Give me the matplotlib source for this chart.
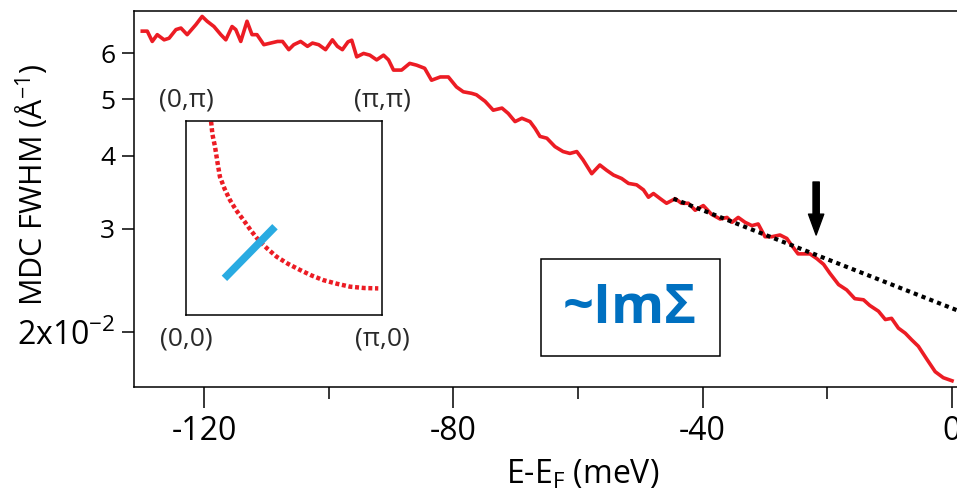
import matplotlib.pyplot as plt
from matplotlib.patches import Rectangle
from matplotlib.ticker import FixedLocator, FixedFormatter
import numpy as np

plt.rcParams['font.family'] = ['Open Sans', 'DejaVu Sans']
plt.rcParams['mathtext.fontset'] = 'custom'
plt.rcParams['mathtext.rm'] = 'Open Sans'
plt.rcParams['mathtext.default'] = 'rm'
plt.rcParams['axes.unicode_minus'] = False

# E-E_F (meV) и MDC FWHM (в единицах 1e-2 1/Å)
energy = [-129.9, -129.1, -128.3, -127.5, -126.4, -125.6, -124.5, -123.7, -122.7, -121.3,
          -120.3, -119.5, -118.4, -117.3, -116.5, -115.5, -114.9, -114.1, -113.1, -112.3,
          -111.5, -110.4, -109.3, -108.2, -107.4, -106.4, -105.6, -104.5, -103.4, -102.6,
          -101.6, -100.5, -99.4, -98.6, -97.8,
          -96.9, -96.3, -95.5, -94.4, -93.4, -92.3, -91.2, -90.4, -89.6, -88.3,
          -87.0, -85.9, -84.6, -83.5, -82.1, -80.8, -79.5, -78.4, -77.1, -76.3,
          -74.9, -73.6, -72.2, -71.2, -70.1, -69.0, -67.7, -66.9, -66.1,
          -65.0, -63.7, -62.4, -61.3, -60.2, -59.2, -57.8, -56.5, -55.4, -54.3,
          -53.0, -51.9, -50.6, -49.5, -48.7, -47.9, -46.8, -45.8, -44.4, -43.4,
          -42.3, -41.2, -39.9, -38.6, -37.2, -36.1, -35.3, -34.3,
          -33.2, -32.1, -31.1, -30.0, -28.9, -27.6, -26.5, -25.7, -24.7, -23.6,
          -22.8, -21.7, -20.6, -19.6, -18.2, -16.9, -15.6, -14.2, -13.2, -11.8,
          -10.7, -9.7, -8.6, -7.5, -6.5, -5.4, -4.1, -2.7, -1.4, 0.0]
fwhm = [6.54, 6.54, 6.28, 6.45, 6.32, 6.36, 6.58, 6.62, 6.45, 6.71,
        6.93, 6.80, 6.66, 6.45, 6.32, 6.66, 6.58, 6.28, 6.80, 6.45,
        6.45, 6.20, 6.24, 6.28, 6.28, 6.08, 6.20, 6.28, 6.16, 6.24,
        6.20, 6.08, 6.32, 6.16, 6.08,
        6.27, 6.31, 5.91, 5.99, 5.95, 5.84, 5.95, 5.84, 5.61, 5.61,
        5.76, 5.72, 5.65, 5.39, 5.46, 5.46, 5.25, 5.15, 5.12, 5.09,
        4.96, 4.79, 4.83, 4.73, 4.58, 4.64, 4.58, 4.46, 4.32,
        4.29, 4.15, 4.07, 4.04, 4.07, 3.94, 3.73, 3.86, 3.78, 3.71,
        3.66, 3.59, 3.57, 3.50, 3.40, 3.45, 3.38, 3.32, 3.38, 3.32,
        3.32, 3.23, 3.29, 3.18, 3.12, 3.14, 3.08, 3.14,
        3.08, 3.04, 3.06, 2.91, 2.91, 2.93, 2.89, 2.81, 2.72, 2.72,
        2.72, 2.67, 2.61, 2.52, 2.41, 2.36, 2.28, 2.27, 2.22, 2.17,
        2.10, 2.11, 2.03, 1.99, 1.94, 1.89, 1.80, 1.71, 1.67, 1.65]

# пунктирная прямая (фит)
fit_x = [-44.7, 12.8]
fit_y = [3.38, 1.94]

# стрелка
arrow_x = -21.8
arrow_y = [3.61, 2.93]

# вставка: поверхность Ферми и разрез (в долях от пи)
fs_kx = [0.128, 0.135, 0.148, 0.160, 0.173, 0.197, 0.224, 0.256, 0.293, 0.330,
         0.369, 0.415, 0.463, 0.520, 0.582, 0.64, 0.70, 0.77, 0.837, 0.91, 0.981]
fs_ky = [0.997, 0.93, 0.868, 0.79, 0.713, 0.65, 0.593, 0.54, 0.49, 0.437,
         0.387, 0.342, 0.30, 0.264, 0.232, 0.204, 0.18, 0.161, 0.146, 0.139, 0.137]
cut_kx = [0.196, 0.454]
cut_ky = [0.189, 0.455]
corner_labels = ['(0,π)', '(π,π)', '(0,0)', '(π,0)']

red = '#ec1c24'
W, H = 957, 501

fig = plt.figure(figsize=(W / 100, H / 100), dpi=100)
ax = fig.add_axes([134 / W, (H - 387) / H, 898 / W, 376 / H])

ax.plot(energy, np.array(fwhm) * 1e-2, color=red, lw=2.6)
ax.plot(fit_x, np.array(fit_y) * 1e-2, color='k', lw=3, ls=(0, (1, 1)))
ax.annotate('', xy=(arrow_x, arrow_y[1] * 1e-2), xytext=(arrow_x, arrow_y[0] * 1e-2),
            arrowprops=dict(facecolor='k', edgecolor='k', width=4.5, headwidth=11,
                            headlength=15, shrink=0))

ax.set_yscale('log')
ax.set_xlim(-131.23, 12.83)
ax.set_ylim(0.0161, 0.0708)
ax.spines['right'].set_visible(False)
for s in ['left', 'top', 'bottom']:
    ax.spines[s].set_linewidth(1.1)

ax.xaxis.set_major_locator(FixedLocator([-120, -80, -40, 0]))
ax.xaxis.set_minor_locator(FixedLocator([-100, -60, -20]))
ax.yaxis.set_major_locator(FixedLocator([0.02]))
ax.yaxis.set_major_formatter(FixedFormatter(['2x10$^{-2}$']))
ax.yaxis.set_minor_locator(FixedLocator([0.03, 0.04, 0.05, 0.06]))
ax.yaxis.set_minor_formatter(FixedFormatter(['3', '4', '5', '6']))
ax.tick_params(axis='x', which='major', length=15, width=1.1, labelsize=23, pad=5)
ax.tick_params(axis='x', which='minor', length=8.5, width=1.1)
ax.tick_params(axis='y', which='both', length=8.5, width=1.1, pad=5)
ax.tick_params(axis='y', which='major', labelsize=23)
ax.tick_params(axis='y', which='minor', labelsize=19)

ax.set_xlabel('E-E$_F$ (meV)', fontsize=23)
ax.xaxis.set_label_coords(0.5, -0.19)
ax.set_ylabel('MDC FWHM (Å$^{-1}$)', fontsize=22)
ax.yaxis.set_label_coords(-0.092, 0.537)

# вставка
ins = fig.add_axes([186 / W, (H - 315) / H, 196 / W, 194 / H])
ins.plot(fs_kx, fs_ky, color=red, lw=3.2, ls=(0, (0.9, 0.6)))
ins.plot(cut_kx, cut_ky, color='#29abe2', lw=5.5, solid_capstyle='butt')
ins.set_xlim(0, 1)
ins.set_ylim(0, 1)
ins.set_xticks([])
ins.set_yticks([])
for s in ins.spines.values():
    s.set_linewidth(1.1)
for lab, (lx, ly) in zip(corner_labels, [(0, 1), (1, 1), (0, 0), (1, 0)]):
    ins.text(lx, 1.11 if ly else -0.125, lab, transform=ins.transAxes,
             ha='center', va='center', fontsize=19, color='#2a2a2a')

# рамка с подписью
fig.add_artist(Rectangle((541 / W, (H - 356) / H), 179 / W, 97 / H,
                         transform=fig.transFigure, fill=False, ec='k', lw=1.1))
fig.text(630 / W, (H - 309) / H, '~ImΣ', ha='center', va='center',
         fontsize=39, fontweight='bold', color='#0070c0')

fig.savefig('out.png', dpi=100)
